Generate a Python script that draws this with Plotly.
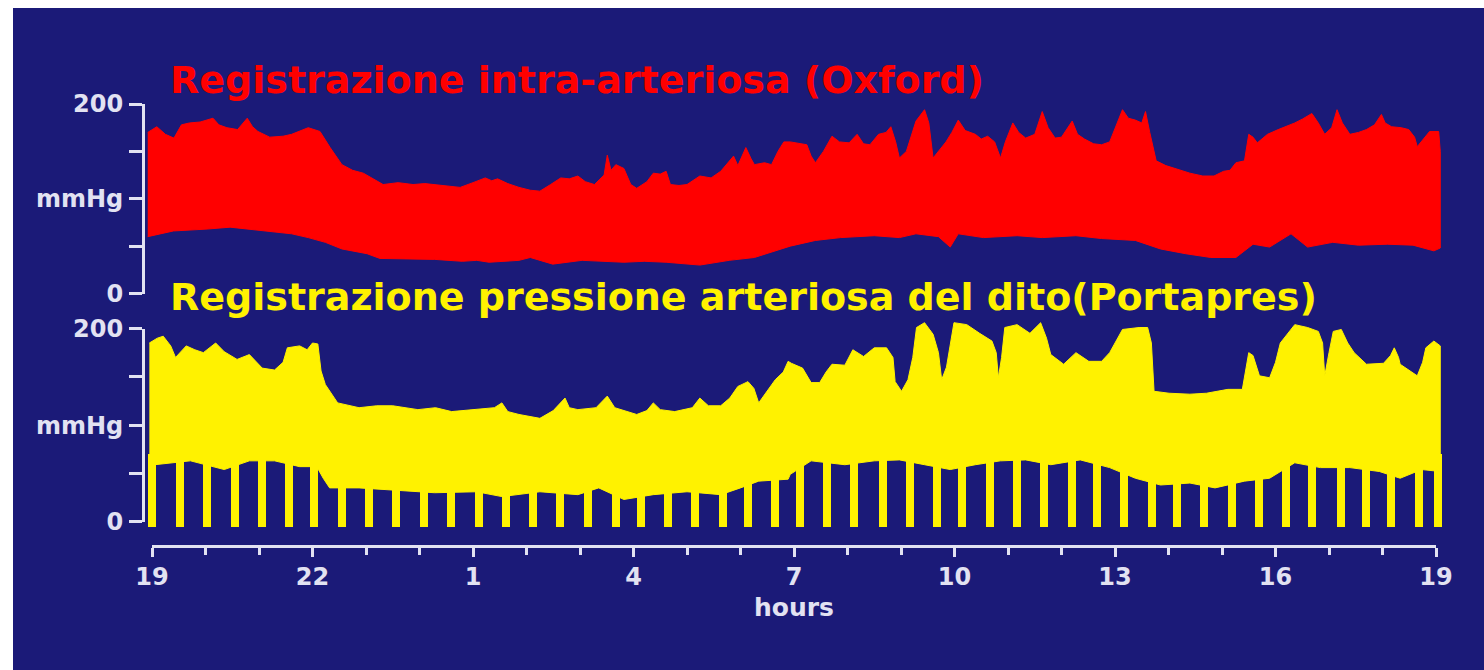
import plotly.graph_objects as go

# ---------------------------------------------------------------------------
# 24-hour blood-pressure recordings, time in hours after 19:00
# ---------------------------------------------------------------------------

# intra-arterial (Oxford) recording: systolic envelope
RED_UP_T = [-0.08, 0.09, 0.25, 0.41, 0.55, 0.70, 0.90, 1.14, 1.25, 1.40, 1.60, 1.78, 1.88, 1.98,
            2.20, 2.45, 2.61, 2.80, 2.92, 3.14, 3.33, 3.55, 3.75, 3.95, 4.14, 4.32, 4.60, 4.88,
            5.10, 5.28, 5.50, 5.76, 6.00, 6.23, 6.35, 6.46, 6.65, 6.86, 7.07, 7.25, 7.45, 7.64,
            7.80, 7.96, 8.10, 8.27, 8.45, 8.51, 8.58, 8.67, 8.82, 8.95, 9.06, 9.25, 9.37, 9.50,
            9.61, 9.69, 9.85, 10.00, 10.24, 10.45, 10.63, 10.80, 10.87, 10.95, 11.10, 11.20,
            11.26, 11.45, 11.58, 11.70, 11.81, 11.93, 12.10, 12.24, 12.32, 12.40, 12.55, 12.71,
            12.85, 13.03, 13.18, 13.30, 13.42, 13.58, 13.72, 13.81, 13.90, 13.97, 14.10, 14.28,
            14.44, 14.52, 14.60, 14.70, 14.84, 14.95, 15.07, 15.20, 15.39, 15.50, 15.62, 15.75,
            15.86, 15.95, 16.09, 16.20, 16.33, 16.50, 16.64, 16.75, 16.88, 17.00, 17.20, 17.30,
            17.43, 17.60, 17.75, 17.90, 17.98, 18.14, 18.25, 18.38, 18.50, 18.57, 18.65, 18.77,
            18.95, 19.16, 19.40, 19.64, 19.85, 20.03, 20.15, 20.26, 20.42, 20.50, 20.58, 20.66,
            20.85, 21.05, 21.20, 21.36, 21.50, 21.68, 21.80, 21.92, 22.05, 22.15, 22.25, 22.39,
            22.55, 22.70, 22.85, 22.98, 23.05, 23.17, 23.35, 23.49, 23.60, 23.65, 23.75, 23.88,
            24.05, 24.08]
RED_UP = [170, 176, 168, 164, 178, 180, 181, 185, 178, 175, 173, 185, 176, 171,
          165, 166, 168, 172, 175, 171, 154, 136, 130, 127, 121, 115, 117, 115,
          116, 115, 114, 112, 117, 122, 119, 121, 116, 112, 109, 108, 115, 122,
          121, 124, 118, 115, 125, 146, 130, 136, 132, 115, 111, 118, 127, 126,
          129, 115, 114, 115, 124, 122, 129, 140, 145, 135, 154, 142,
          136, 138, 136, 150, 160, 160, 158, 157, 145, 138, 150, 166,
          160, 159, 168, 158, 157, 168, 170, 176, 160, 143, 150, 182,
          194, 180, 143, 150, 160, 170, 183, 172, 168, 163, 166, 160,
          143, 160, 180, 170, 164, 168, 192, 175, 164, 165, 182, 168,
          163, 158, 157, 160, 171, 194, 185, 183, 180, 192, 170, 140,
          135, 131, 127, 124, 124, 129, 130, 138, 140, 168, 165, 159,
          168, 173, 176, 180, 184, 190, 180, 168, 175, 194, 180, 168,
          170, 173, 178, 189, 180, 176, 175, 173, 165, 155, 162, 171,
          171, 150]

# intra-arterial (Oxford) recording: diastolic envelope
RED_LO_T = [-0.08, 0.40, 1.03, 1.46, 1.82, 2.14, 2.61, 2.92, 3.24, 3.55, 4.02, 4.26, 4.50,
            5.28, 5.80, 6.07, 6.30, 6.86, 7.07, 7.49, 8.04, 8.82, 9.20, 9.61, 10.24, 10.50,
            10.79, 11.26, 11.58, 11.93, 12.40, 12.87, 13.50, 13.97, 14.28, 14.70, 14.92,
            15.07, 15.54, 16.17, 16.64, 17.27, 17.75, 18.38, 18.85, 19.32, 19.79, 20.26,
            20.58, 20.89, 21.29, 21.60, 22.07, 22.55, 23.09, 23.57, 23.96, 24.08]
RED_LO = [60, 66, 68, 70, 68, 66, 63, 59, 54, 47, 42, 37, 37,
          36, 34, 35, 33, 35, 38, 31, 35, 33, 34, 33, 30, 32,
          35, 38, 44, 50, 56, 59, 61, 59, 63, 60, 49,
          63, 59, 61, 59, 61, 58, 56, 47, 42, 38, 38,
          52, 49, 63, 49, 54, 51, 52, 51, 45, 48]

# finger pressure (Portapres) recording: systolic envelope
YEL_UP_T = [-0.05, 0.10, 0.21, 0.35, 0.44, 0.64, 0.80, 0.96, 1.19, 1.35, 1.59, 1.82, 2.06,
            2.29, 2.45, 2.53, 2.76, 2.90, 3.00, 3.10, 3.16, 3.24, 3.47, 3.87, 4.20, 4.50,
            4.97, 5.30, 5.60, 6.07, 6.40, 6.54, 6.65, 6.86, 7.25, 7.50, 7.72, 7.80, 7.96,
            8.30, 8.51, 8.65, 9.06, 9.25, 9.37, 9.50, 9.77, 10.10, 10.24, 10.40, 10.63,
            10.80, 10.95, 11.14, 11.25, 11.34, 11.50, 11.65, 11.80, 11.89, 11.95, 12.16,
            12.32, 12.48, 12.60, 12.71, 12.95, 13.10, 13.30, 13.50, 13.73, 13.85, 13.89,
            14.01, 14.13, 14.22, 14.29, 14.44, 14.60, 14.70, 14.76, 14.85, 14.99, 15.23,
            15.47, 15.70, 15.78, 15.82, 15.88, 15.94, 16.17, 16.41, 16.61, 16.72, 16.80,
            17.04, 17.27, 17.51, 17.75, 17.90, 17.98, 18.14, 18.45, 18.61, 18.68, 18.73,
            19.01, 19.40, 19.71, 20.11, 20.38, 20.45, 20.50, 20.58, 20.70, 20.89, 21.00,
            21.09, 21.36, 21.60, 21.80, 21.88, 21.92, 22.00, 22.08, 22.23, 22.35, 22.47,
            22.70, 23.02, 23.15, 23.22, 23.30, 23.33, 23.53, 23.65, 23.75, 23.81, 23.96,
            24.08]
YEL_UP = [185, 190, 192, 182, 170, 182, 178, 175, 185, 176, 168, 173, 159,
          157, 165, 180, 182, 178, 185, 184, 156, 142, 123, 118, 120, 120,
          116, 118, 114, 116, 118, 123, 114, 111, 107, 115, 128, 118, 116,
          118, 130, 118, 111, 115, 123, 116, 114, 118, 128, 120, 120,
          128, 140, 145, 138, 123, 135, 147, 155, 166, 164, 159,
          144, 144, 155, 163, 162, 178, 171, 180, 180, 170, 145,
          135, 147, 170, 201, 206, 194, 175, 147, 160, 206, 204,
          195, 187, 175, 149, 170, 201, 204, 195, 206, 190, 173,
          163, 175, 166, 166, 175, 183, 199, 201, 201, 185, 135,
          133, 132, 133, 137, 137, 160, 175, 172, 151, 149, 165,
          185, 204, 201, 197, 185, 151, 175, 197, 199, 185, 175,
          163, 164, 172, 180, 170, 163, 156, 151, 165, 180, 187,
          182]

# finger pressure (Portapres) recording: diastolic envelope
YEL_LO_T = [-0.05, 0.05, 0.72, 1.35, 1.82, 2.29, 2.76, 3.08, 3.20, 3.32, 3.87, 4.50, 5.28,
            6.07, 6.54, 7.25, 7.96, 8.35, 8.82, 9.37, 10.00, 10.63, 11.00, 11.34, 11.89,
            11.93, 12.32, 12.95, 13.50, 13.97, 14.44, 14.92, 15.39, 15.86, 16.33, 16.80,
            17.35, 17.90, 18.38, 18.85, 19.40, 19.87, 20.42, 20.89, 21.36, 21.84, 22.39,
            22.94, 23.33, 23.73, 24.08]
YEL_LO = [60, 59, 63, 54, 63, 63, 57, 57, 45, 35, 35, 33, 30,
          31, 26, 31, 28, 35, 23, 28, 31, 28, 35, 42, 44,
          49, 63, 59, 63, 64, 59, 54, 59, 63, 64, 59,
          64, 56, 45, 38, 40, 35, 42, 45, 61, 56, 56,
          52, 45, 54, 52]

# Portapres self-calibration dips (the cuff pressure drops to zero)
SPIKE_T = [0.01, 0.52, 1.03, 1.55, 2.06, 2.57, 3.04, 3.55, 4.06, 4.57, 5.09, 5.60, 6.11,
           6.62, 7.13, 7.64, 8.16, 8.67, 9.14, 9.65, 10.16, 10.67, 11.14, 11.65, 12.12,
           12.63, 13.12, 13.66, 14.17, 14.68, 15.15, 15.66, 16.17, 16.68, 17.20, 17.67,
           18.18, 18.69, 19.16, 19.67, 20.19, 20.70, 21.21, 21.68, 22.23, 22.70, 23.17,
           23.69, 24.05]
SPIKE_FLOOR = -5

# axis labelling
HOUR_TICKS = [0, 3, 6, 9, 12, 15, 18, 21, 24]
HOUR_LABELS = ["19", "22", "1", "4", "7", "10", "13", "16", "19"]
P_TICKS = [0, 100, 200]
P_LABELS = ["0", "mmHg", "200"]

TITLE_TOP = "Registrazione intra-arteriosa (Oxford)"
TITLE_BOTTOM = "Registrazione pressione arteriosa del dito(Portapres)"

# ---------------------------------------------------------------------------
W, H = 1484, 670
NAVY = "#1b1a78"
INK = "#e2e2f2"
RED = "#ff0000"
YELLOW = "#fff200"
FONT = "DejaVu Sans"


def px_x(p):
    return p / W


def px_y(p):
    return 1 - p / H


# horizontal scale: 19:00 at 152 px, the following 19:00 at 1436 px
X0_PX, X1_PX = 152, 1436
PX_PER_H = (X1_PX - X0_PX) / 24
XR = [-0.2, 24.2]
X_DATA_DOM = [px_x(X0_PX + XR[0] * PX_PER_H), px_x(X0_PX + XR[1] * PX_PER_H)]

# vertical panels: pixel rows of 0 and 200 mmHg
UP_ZERO, UP_TOP = 293.5, 104
LO_ZERO, LO_TOP = 521.7, 328.5
YR = [-10, 215]


def y_dom(zero_px, top_px, lo, hi):
    k = (zero_px - top_px) / 200
    return [px_y(zero_px - lo * k), px_y(zero_px - hi * k)]


def band(t_up, v_up, t_lo, v_lo, color, yaxis):
    return go.Scatter(
        x=t_up + t_lo[::-1], y=v_up + v_lo[::-1],
        fill="toself", fillcolor=color, mode="lines",
        line=dict(color=color, width=1),
        xaxis="x", yaxis=yaxis, hoverinfo="skip", showlegend=False,
    )


fig = go.Figure()
fig.add_trace(band(RED_UP_T, RED_UP, RED_LO_T, RED_LO, RED, "y"))
fig.add_trace(band(YEL_UP_T, YEL_UP, YEL_LO_T, YEL_LO, YELLOW, "y2"))
fig.add_trace(go.Bar(
    x=SPIKE_T, y=[70 - SPIKE_FLOOR] * len(SPIKE_T), base=SPIKE_FLOOR,
    width=0.15, marker=dict(color=YELLOW, line=dict(width=0)),
    xaxis="x", yaxis="y2", hoverinfo="skip", showlegend=False,
))
# empty traces that carry the labelled axes
for ya in ("y3", "y4"):
    fig.add_trace(go.Scatter(x=[], y=[], xaxis="x2", yaxis=ya,
                             hoverinfo="skip", showlegend=False))

tick_font = dict(family=FONT, size=24, color=INK, weight="bold")


def p_axis(zero_px, top_px):
    return dict(
        domain=y_dom(zero_px, top_px, 0, 200), range=[0, 200],
        anchor="free", position=px_x(143), side="left",
        showline=True, linecolor=INK, linewidth=3,
        ticks="outside", ticklen=13, tickwidth=3, tickcolor=INK,
        tickmode="array", tickvals=P_TICKS, ticktext=P_LABELS,
        tickfont=tick_font, ticklabelstandoff=1,
        minor=dict(tickmode="array", tickvals=[50, 150], ticks="outside",
                   ticklen=13, tickwidth=3, tickcolor=INK),
        showgrid=False, zeroline=False, fixedrange=True,
    )


fig.update_layout(
    width=W, height=H,
    margin=dict(l=0, r=0, t=0, b=0),
    paper_bgcolor=NAVY, plot_bgcolor="rgba(0,0,0,0)",
    template="none", bargap=0,
    xaxis=dict(domain=X_DATA_DOM, range=XR, visible=False, fixedrange=True),
    yaxis=dict(domain=y_dom(UP_ZERO, UP_TOP, *YR), range=YR, anchor="x",
               visible=False, fixedrange=True),
    yaxis2=dict(domain=y_dom(LO_ZERO, LO_TOP, *YR), range=YR, anchor="x",
                visible=False, fixedrange=True),
    xaxis2=dict(
        domain=[px_x(X0_PX), px_x(X1_PX)], range=[0, 24],
        anchor="free", position=px_y(546),
        showline=True, linecolor=INK, linewidth=3,
        ticks="outside", ticklen=9, tickwidth=3, tickcolor=INK,
        tickmode="array", tickvals=HOUR_TICKS, ticktext=HOUR_LABELS,
        tickfont=tick_font, ticklabelstandoff=-1,
        minor=dict(tickmode="linear", tick0=0, dtick=1, ticks="outside",
                   ticklen=7, tickwidth=3, tickcolor=INK),
        title=dict(text="hours", font=dict(family=FONT, size=25, color=INK, weight="bold"),
                   standoff=8),
        showgrid=False, zeroline=False, fixedrange=True,
    ),
    yaxis3=p_axis(UP_ZERO, UP_TOP),
    yaxis4=p_axis(LO_ZERO, LO_TOP),
    annotations=[
        dict(text="<b>" + TITLE_TOP + "</b>", x=px_x(168), y=px_y(80),
             xref="paper", yref="paper", xanchor="left", yanchor="middle",
             showarrow=False, font=dict(family=FONT, size=38, color=RED)),
        dict(text="<b>" + TITLE_BOTTOM + "</b>", x=px_x(168), y=px_y(297),
             xref="paper", yref="paper", xanchor="left", yanchor="middle",
             showarrow=False, font=dict(family=FONT, size=38, color=YELLOW)),
    ],
    shapes=[
        dict(type="rect", xref="paper", yref="paper", x0=0, x1=px_x(13), y0=0, y1=1,
             fillcolor="white", line=dict(width=0), layer="above"),
        dict(type="rect", xref="paper", yref="paper", x0=0, x1=1, y0=px_y(8), y1=1,
             fillcolor="white", line=dict(width=0), layer="above"),
    ],
)

fig.write_html("out.html")
